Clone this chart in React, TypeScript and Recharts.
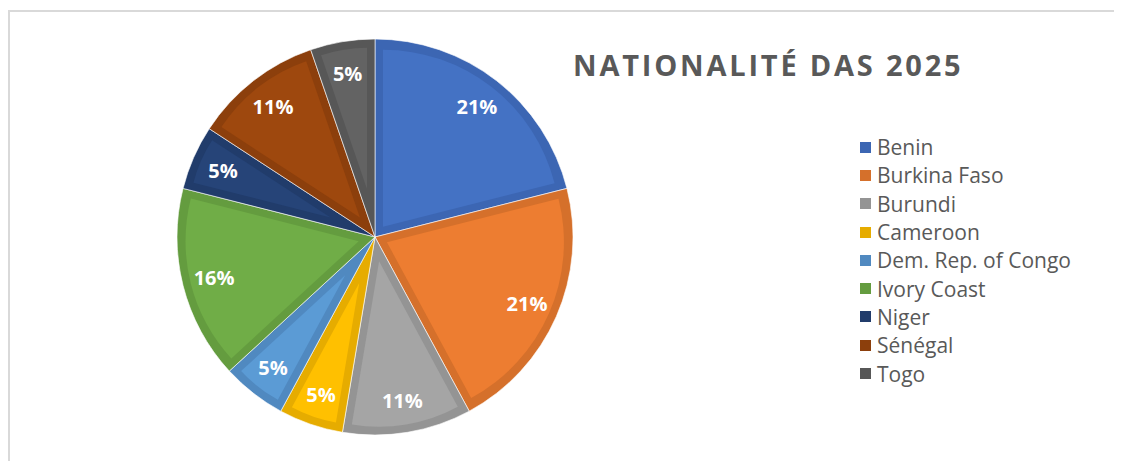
import { Cell, Legend, Pie, PieChart, Sector } from "recharts";

const countries = [
  "Benin",
  "Burkina Faso",
  "Burundi",
  "Cameroon",
  "Dem. Rep. of Congo",
  "Ivory Coast",
  "Niger",
  "Sénégal",
  "Togo",
];
const counts = [4, 4, 2, 1, 1, 3, 1, 2, 1];

const FILLS = ["#4472C4", "#ED7D31", "#A5A5A5", "#FFC000", "#5B9BD5", "#70AD47", "#264478", "#9E480E", "#636363"];
const EDGES = ["#3C66B3", "#D5702B", "#949494", "#E6AC00", "#5089C0", "#649C3F", "#213C6B", "#8C3F0C", "#575757"];

const data = countries.map((name, i) => ({ name, value: counts[i] }));

const RADIAN = Math.PI / 180;
const FONT = "'Open Sans', 'DejaVu Sans', sans-serif";

// darker outer sector with a lighter sector inset inside it, like Excel's bevel
function BevelSector(props: any) {
  const { cx, cy, outerRadius, startAngle, endAngle, index } = props;
  const half = (Math.abs(endAngle - startAngle) / 2) * RADIAN;
  const mid = ((startAngle + endAngle) / 2) * RADIAN;
  const band = 8;
  const shift = half > 0 ? band / Math.sin(Math.min(half, Math.PI / 2)) : 0;
  return (
    <g>
      <Sector
        cx={cx}
        cy={cy}
        innerRadius={0}
        outerRadius={outerRadius}
        startAngle={startAngle}
        endAngle={endAngle}
        fill={EDGES[index]}
        stroke="#ffffff"
        strokeOpacity={0.6}
        strokeWidth={1}
      />
      <Sector
        cx={cx + shift * Math.cos(mid)}
        cy={cy - shift * Math.sin(mid)}
        innerRadius={0}
        outerRadius={outerRadius - band - shift}
        startAngle={startAngle}
        endAngle={endAngle}
        fill={FILLS[index]}
        stroke="none"
      />
    </g>
  );
}

function renderLabel(props: any) {
  const { cx, cy, midAngle, outerRadius, percent } = props;
  const r = outerRadius - 32;
  const x = cx + r * Math.cos(-midAngle * RADIAN);
  const y = cy + r * Math.sin(-midAngle * RADIAN);
  return (
    <text
      x={x}
      y={y}
      fill="#ffffff"
      textAnchor="middle"
      dominantBaseline="central"
      fontFamily={FONT}
      fontWeight={700}
      fontSize={20}
    >
      {`${Math.round(percent * 100)}%`}
    </text>
  );
}

function LegendList({ payload }: any) {
  return (
    <div style={{ fontFamily: FONT, fontSize: 21, color: "#595959" }}>
      {(payload || []).map((entry: any, i: number) => (
        <div key={entry.value} style={{ display: "flex", alignItems: "center", height: 28.3 }}>
          <span
            style={{
              display: "inline-block",
              width: 11,
              height: 11,
              background: EDGES[i],
              marginRight: 6,
            }}
          />
          <span>{entry.value}</span>
        </div>
      ))}
    </div>
  );
}

export default function App() {
  return (
    <div style={{ position: "relative", width: 1114, height: 453 }}>
      <div
        style={{
          position: "absolute",
          left: 0,
          top: 2,
          right: -10,
          bottom: -10,
          borderLeft: "2px solid #d9d9d9",
          borderTop: "2px solid #d9d9d9",
        }}
      />
      <div
        style={{
          position: "absolute",
          left: 565,
          top: 37,
          fontFamily: FONT,
          fontWeight: 700,
          fontSize: 29,
          letterSpacing: 2.8,
          color: "#595959",
          whiteSpace: "nowrap",
        }}
      >
        NATIONALITÉ DAS 2025
      </div>
      <PieChart width={1114} height={453} style={{ position: "absolute", left: 0, top: 0 }}>
        <Pie
          data={data}
          dataKey="value"
          nameKey="name"
          cx={362}
          cy={224}
          outerRadius={198}
          startAngle={90}
          endAngle={-270}
          shape={BevelSector}
          label={renderLabel}
          labelLine={false}
          isAnimationActive={false}
        >
          {data.map((d, i) => (
            <Cell key={d.name} fill={FILLS[i]} />
          ))}
        </Pie>
        <Legend
          layout="vertical"
          content={LegendList}
          wrapperStyle={{ left: 852, top: 125, width: 260 }}
        />
      </PieChart>
    </div>
  );
}
